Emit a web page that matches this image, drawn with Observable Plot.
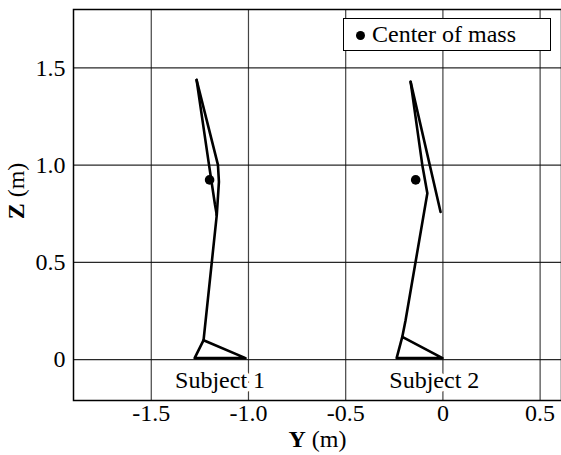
<!DOCTYPE html>
<html><head><meta charset="utf-8">
<script src="https://cdn.jsdelivr.net/npm/d3@7"></script>
<script src="https://cdn.jsdelivr.net/npm/@observablehq/plot@0.6"></script>
<style>
body{margin:0;background:#fff;}
#wrap{position:relative;width:561px;height:455px;font-family:"Liberation Serif","Times New Roman",serif;}
#legend{position:absolute;left:343px;top:18px;width:206px;height:31px;border:1.5px solid #000;background:#fff;font-size:24px;color:#000;}
#legend .dot{position:absolute;left:12px;top:12px;width:9px;height:9px;border-radius:50%;background:#000;}
#legend .lab{position:absolute;left:28px;top:2px;line-height:26px;white-space:nowrap;}
</style>
</head><body>
<div id="wrap"></div>
<script>
// axis ticks
const xTicks = [-1.5, -1.0, -0.5, 0, 0.5];
const xTickLabels = ["-1.5", "-1.0", "-0.5", "0", "0.5"];
const yTicks = [0, 0.5, 1.0, 1.5];
const yTickLabels = ["0", "0.5", "1.0", "1.5"];

// Subject 1 stick figure (Y, Z in metres)
const s1ArmY = [-1.267, -1.157, -1.152, -1.163];
const s1ArmZ = [1.438, 1.001, 0.914, 0.744];
const s1TrunkY = [-1.267, -1.203, -1.172, -1.163];
const s1TrunkZ = [1.438, 1.001, 0.795, 0.744];
const s1LegY = [-1.163, -1.231];
const s1LegZ = [0.744, 0.100];
const s1FootY = [-1.231, -1.277, -1.015, -1.231];
const s1FootZ = [0.100, 0.008, 0.008, 0.100];

// Subject 2 stick figure
const s2ArmY = [-0.166, -0.012];
const s2ArmZ = [1.428, 0.759];
const s2TrunkY = [-0.166, -0.106, -0.080, -0.192, -0.209];
const s2TrunkZ = [1.428, 1.001, 0.855, 0.203, 0.117];
const s2FootY = [-0.209, -0.238, -0.002, -0.209];
const s2FootZ = [0.117, 0.008, 0.008, 0.117];

// Centers of mass
const comY = [-1.200, -0.140];
const comZ = [0.924, 0.924];

// Subject labels
const subjectNames = ["Subject 1", "Subject 2"];
const subjectLabelY = [-1.146, -0.044];
const subjectLabelZ = [-0.107, -0.107];

const segs = [
  ["s1arm", s1ArmY, s1ArmZ], ["s1trunk", s1TrunkY, s1TrunkZ],
  ["s1leg", s1LegY, s1LegZ], ["s1foot", s1FootY, s1FootZ],
  ["s2arm", s2ArmY, s2ArmZ], ["s2trunk", s2TrunkY, s2TrunkZ],
  ["s2foot", s2FootY, s2FootZ]
];
const lineRows = segs.flatMap(([id, ys, zs]) => ys.map((y, i) => ({id, y, z: zs[i]})));
const comRows = comY.map((y, i) => ({y, z: comZ[i]}));
const labelRows = subjectNames.map((name, i) => ({name, y: subjectLabelY[i], z: subjectLabelZ[i]}));

const chart = Plot.plot({
  width: 561, height: 455,
  marginLeft: 73, marginRight: 0, marginTop: 9, marginBottom: 55,
  style: {fontFamily: '"Liberation Serif","Times New Roman",serif', fontSize: "24px", color: "#000", background: "#fff"},
  x: {domain: [-1.9, 0.61]},
  y: {domain: [-0.21, 1.8]},
  marks: [
    Plot.gridX(xTicks, {stroke: "#222", strokeOpacity: 0.85, strokeWidth: 1.2}),
    Plot.gridY(yTicks, {stroke: "#111", strokeOpacity: 0.9, strokeWidth: 1.2}),
    Plot.axisX(xTicks, {tickSize: 0, tickPadding: 3, tickFormat: d => xTickLabels[xTicks.indexOf(d)],
      label: "Y (m)", labelAnchor: "center", labelOffset: 46, labelArrow: "none"}),
    Plot.axisY(yTicks, {tickSize: 0, tickPadding: 8, tickFormat: d => yTickLabels[yTicks.indexOf(d)],
      label: "Z (m)", labelAnchor: "center", labelOffset: 67, labelArrow: "none"}),
    Plot.line(lineRows, {x: "y", y: "z", z: "id", stroke: "#000", strokeWidth: 2.6, strokeLinejoin: "round", curve: "linear"}),
    Plot.dot(comRows, {x: "y", y: "z", r: 4.8, fill: "#000", stroke: "none"}),
    Plot.text(labelRows, {x: "y", y: "z", text: "name", fill: "#000", stroke: "#fff", strokeWidth: 8, fontSize: 24}),
    Plot.frame({stroke: "#000", strokeWidth: 1.5})
  ]
});
document.getElementById("wrap").appendChild(chart);

function boldFirst(sel, dx) {
  const t = chart.querySelector(sel);
  if (!t) return;
  const txt = t.textContent;
  t.textContent = "";
  const ns = "http://www.w3.org/2000/svg";
  const a = document.createElementNS(ns, "tspan");
  a.setAttribute("font-weight", "bold");
  a.textContent = txt.slice(0, 1);
  const b = document.createElementNS(ns, "tspan");
  b.textContent = txt.slice(1);
  t.appendChild(a); t.appendChild(b);
  if (dx) t.setAttribute("dx", dx);
}
boldFirst('g[aria-label="x-axis label"] text', 0);
boldFirst('g[aria-label="y-axis label"] text', 14);

const legend = document.createElement("div");
legend.id = "legend";
legend.innerHTML = '<span class="dot"></span><span class="lab">Center of mass</span>';
document.getElementById("wrap").appendChild(legend);
</script>
</body></html>
